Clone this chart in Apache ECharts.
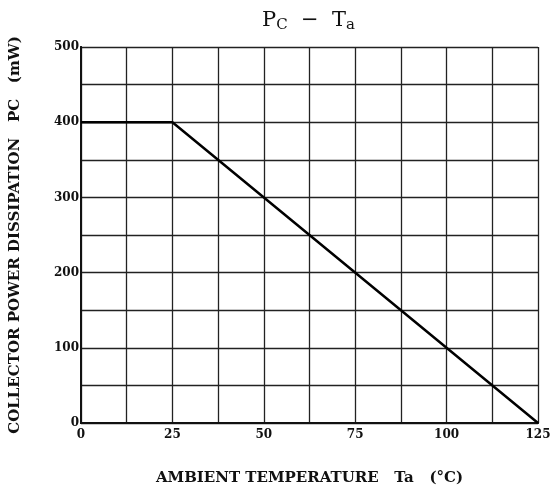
<!DOCTYPE html>
<html><head><meta charset="utf-8">
<script src="https://cdn.jsdelivr.net/npm/echarts@6/dist/echarts.min.js"></script>
<style>html,body{margin:0;padding:0;background:#fff}#c{width:555px;height:491px}</style>
</head><body><div id="c"></div>
<script>
const temps = [0, 25, 125];
const power = [400, 400, 0];
const xTickLabels = [0, 25, 50, 75, 100, 125];
const yTickLabels = [0, 100, 200, 300, 400, 500];

const font = '"DejaVu Serif", "Liberation Serif", serif';
const frameAxis = { type: 'value', axisLine: { show: true, lineStyle: { color: '#111', width: 2 } }, axisTick: { show: false }, axisLabel: { show: false }, splitLine: { show: false } };
const chart = echarts.init(document.getElementById('c'));
chart.setOption({
  backgroundColor: '#fff',
  animation: false,
  grid: { left: 80, right: 17, top: 47, bottom: 67 },
  graphic: [{
    type: 'text', left: 262, top: 10,
    style: {
      text: 'P{s|C}  −  T{s|a}',
      font: '21px ' + font, fill: '#111',
      rich: { s: { fontSize: 15, fontFamily: font, fill: '#111', verticalAlign: 'bottom', padding: [10, 0, 0, 0] } }
    }
  }],
  xAxis: [{
    type: 'value', min: 0, max: 125, interval: 12.5,
    name: 'AMBIENT TEMPERATURE   Ta   (°C)', nameLocation: 'middle', nameGap: 48,
    nameTextStyle: { fontFamily: font, fontWeight: 'bold', fontSize: 15, color: '#111' },
    axisLine: { show: true, onZero: false, lineStyle: { color: '#111', width: 2 } },
    axisTick: { show: false },
    axisLabel: {
      fontFamily: font, fontWeight: 'bold', fontSize: 12, color: '#111', margin: 6,
      formatter: v => xTickLabels.includes(v) ? String(v) : ''
    },
    splitLine: { show: true, lineStyle: { color: '#222', width: 1.3 } }
  }, Object.assign({ position: 'top', min: 0, max: 125 }, frameAxis)],
  yAxis: [{
    type: 'value', min: 0, max: 500, interval: 50,
    name: 'COLLECTOR POWER DISSIPATION   PC   (mW)', nameLocation: 'middle', nameGap: 58,
    nameTextStyle: { fontFamily: font, fontWeight: 'bold', fontSize: 15, color: '#111' },
    axisLine: { show: true, lineStyle: { color: '#111', width: 2 } },
    axisTick: { show: false },
    axisLabel: {
      fontFamily: font, fontWeight: 'bold', fontSize: 12, color: '#111', margin: 2,
      formatter: v => yTickLabels.includes(v) ? String(v) : ''
    },
    splitLine: { show: true, lineStyle: { color: '#222', width: 1.3 } }
  }, Object.assign({ position: 'right', min: 0, max: 500 }, frameAxis)],
  series: [{
    type: 'line', data: temps.map((t, i) => [t, power[i]]),
    symbol: 'none', lineStyle: { color: '#000', width: 2.5 }
  }]
});
</script></body></html>
